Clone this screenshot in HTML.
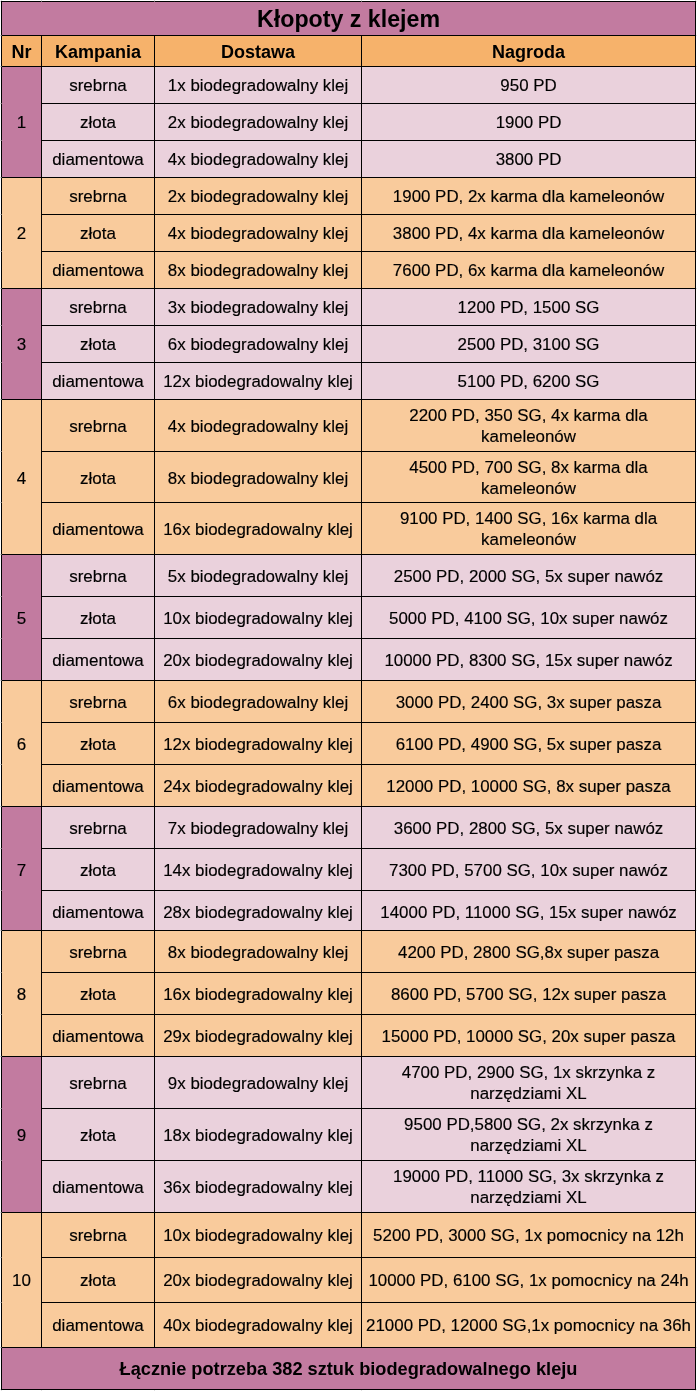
<!DOCTYPE html>
<html lang="pl">
<head>
<meta charset="utf-8">
<title>Kłopoty z klejem</title>
<style>
*{box-sizing:border-box}
html,body{margin:0;padding:0;background:#fff}
body{width:697px;height:1391px;overflow:hidden;position:relative;font-family:"Liberation Sans",Arial,sans-serif;color:#000}
table{position:absolute;left:1px;top:1px;width:695px;border-collapse:collapse;table-layout:fixed;border-spacing:0}
td,th{border:1px solid #000;padding:0;text-align:center;vertical-align:middle;font-weight:400;font-size:17px;line-height:21px;white-space:nowrap;overflow:hidden;-webkit-text-stroke:0.15px #000}
td>span,th>span{display:block;position:relative}
td.v{font-size:16.9px}
.title th,.head th,.foot td{-webkit-text-stroke:0}
.title th{background:#c27ba0;font-weight:700;font-size:23.2px;line-height:26px}
.head th{background:#f6b26b;font-weight:700;font-size:18px;line-height:22px}
.foot td{background:#c27ba0;font-weight:700;font-size:18.2px;line-height:22px}
.p td{background:#ead1dc}
.o td{background:#f9cb9c}
.p td.nr{background:#c27ba0}
.o td.nr{background:#f9cb9c}
.head span{top:1px}
.ticks{position:absolute;left:0;top:0;pointer-events:none}
td.s1 span{top:1px}
td.s2 span{top:2px}
</style>
</head>
<body>
<table>
<colgroup><col style="width:40px"><col style="width:113px"><col style="width:207px"><col style="width:334px"></colgroup>
<thead>
<tr class="title" style="height:34px"><th colspan="4"><span>Kłopoty z klejem</span></th></tr>
<tr class="head" style="height:31px"><th><span>Nr</span></th><th><span>Kampania</span></th><th><span>Dostawa</span></th><th><span>Nagroda</span></th></tr>
</thead>
<tbody>
<tr class="p" style="height:37px"><td class="nr" rowspan="3"><span>1</span></td><td><span>srebrna</span></td><td class="v"><span>1x biodegradowalny klej</span></td><td class="v"><span>950 PD</span></td></tr>
<tr class="p" style="height:37px"><td><span>złota</span></td><td class="v"><span>2x biodegradowalny klej</span></td><td class="v"><span>1900 PD</span></td></tr>
<tr class="p" style="height:37px"><td><span>diamentowa</span></td><td class="v"><span>4x biodegradowalny klej</span></td><td class="v"><span>3800 PD</span></td></tr>
<tr class="o" style="height:37px"><td class="nr" rowspan="3"><span>2</span></td><td><span>srebrna</span></td><td class="v"><span>2x biodegradowalny klej</span></td><td class="v"><span>1900 PD, 2x karma dla kameleonów</span></td></tr>
<tr class="o" style="height:37px"><td><span>złota</span></td><td class="v"><span>4x biodegradowalny klej</span></td><td class="v"><span>3800 PD, 4x karma dla kameleonów</span></td></tr>
<tr class="o" style="height:37px"><td><span>diamentowa</span></td><td class="v"><span>8x biodegradowalny klej</span></td><td class="v"><span>7600 PD, 6x karma dla kameleonów</span></td></tr>
<tr class="p" style="height:37px"><td class="nr" rowspan="3"><span>3</span></td><td><span>srebrna</span></td><td class="v"><span>3x biodegradowalny klej</span></td><td class="v"><span>1200 PD, 1500 SG</span></td></tr>
<tr class="p" style="height:37px"><td><span>złota</span></td><td class="v"><span>6x biodegradowalny klej</span></td><td class="v"><span>2500 PD, 3100 SG</span></td></tr>
<tr class="p" style="height:37px"><td><span>diamentowa</span></td><td class="v"><span>12x biodegradowalny klej</span></td><td class="v"><span>5100 PD, 6200 SG</span></td></tr>
<tr class="o" style="height:52px"><td class="nr s1" rowspan="3"><span>4</span></td><td class="s1"><span>srebrna</span></td><td class="v s1"><span>4x biodegradowalny klej</span></td><td class="v"><span>2200 PD, 350 SG, 4x karma dla<br>kameleonów</span></td></tr>
<tr class="o" style="height:51px"><td class="s1"><span>złota</span></td><td class="v s1"><span>8x biodegradowalny klej</span></td><td class="v s1"><span>4500 PD, 700 SG, 8x karma dla<br>kameleonów</span></td></tr>
<tr class="o" style="height:52px"><td class="s1"><span>diamentowa</span></td><td class="v s1"><span>16x biodegradowalny klej</span></td><td class="v"><span>9100 PD, 1400 SG, 16x karma dla<br>kameleonów</span></td></tr>
<tr class="p" style="height:42px"><td class="nr s1" rowspan="3"><span>5</span></td><td class="s1"><span>srebrna</span></td><td class="v s1"><span>5x biodegradowalny klej</span></td><td class="v s1"><span>2500 PD, 2000 SG, 5x super nawóz</span></td></tr>
<tr class="p" style="height:42px"><td class="s1"><span>złota</span></td><td class="v s1"><span>10x biodegradowalny klej</span></td><td class="v s1"><span>5000 PD, 4100 SG, 10x super nawóz</span></td></tr>
<tr class="p" style="height:42px"><td class="s1"><span>diamentowa</span></td><td class="v s1"><span>20x biodegradowalny klej</span></td><td class="v s1"><span>10000 PD, 8300 SG, 15x super nawóz</span></td></tr>
<tr class="o" style="height:42px"><td class="nr s1" rowspan="3"><span>6</span></td><td class="s1"><span>srebrna</span></td><td class="v s1"><span>6x biodegradowalny klej</span></td><td class="v s1"><span>3000 PD, 2400 SG, 3x super pasza</span></td></tr>
<tr class="o" style="height:42px"><td class="s1"><span>złota</span></td><td class="v s1"><span>12x biodegradowalny klej</span></td><td class="v s1"><span>6100 PD, 4900 SG, 5x super pasza</span></td></tr>
<tr class="o" style="height:42px"><td class="s1"><span>diamentowa</span></td><td class="v s1"><span>24x biodegradowalny klej</span></td><td class="v s1"><span>12000 PD, 10000 SG, 8x super pasza</span></td></tr>
<tr class="p" style="height:42px"><td class="nr s2" rowspan="3"><span>7</span></td><td class="s1"><span>srebrna</span></td><td class="v s1"><span>7x biodegradowalny klej</span></td><td class="v s1"><span>3600 PD, 2800 SG, 5x super nawóz</span></td></tr>
<tr class="p" style="height:42px"><td class="s1"><span>złota</span></td><td class="v s1"><span>14x biodegradowalny klej</span></td><td class="v s1"><span>7300 PD, 5700 SG, 10x super nawóz</span></td></tr>
<tr class="p" style="height:40px"><td class="s2"><span>diamentowa</span></td><td class="v s2"><span>28x biodegradowalny klej</span></td><td class="v s2"><span>14000 PD, 11000 SG, 15x super nawóz</span></td></tr>
<tr class="o" style="height:42px"><td class="nr s1" rowspan="3"><span>8</span></td><td class="s1"><span>srebrna</span></td><td class="v s1"><span>8x biodegradowalny klej</span></td><td class="v s1"><span>4200 PD, 2800 SG,8x super pasza</span></td></tr>
<tr class="o" style="height:42px"><td class="s1"><span>złota</span></td><td class="v s1"><span>16x biodegradowalny klej</span></td><td class="v s1"><span>8600 PD, 5700 SG, 12x super pasza</span></td></tr>
<tr class="o" style="height:42px"><td class="s1"><span>diamentowa</span></td><td class="v s1"><span>29x biodegradowalny klej</span></td><td class="v s1"><span>15000 PD, 10000 SG, 20x super pasza</span></td></tr>
<tr class="p" style="height:52px"><td class="nr s1" rowspan="3"><span>9</span></td><td class="s1"><span>srebrna</span></td><td class="v s1"><span>9x biodegradowalny klej</span></td><td class="v"><span>4700 PD, 2900 SG, 1x skrzynka z<br>narzędziami XL</span></td></tr>
<tr class="p" style="height:52px"><td class="s1"><span>złota</span></td><td class="v s1"><span>18x biodegradowalny klej</span></td><td class="v"><span>9500 PD,5800 SG, 2x skrzynka z<br>narzędziami XL</span></td></tr>
<tr class="p" style="height:52px"><td class="s1"><span>diamentowa</span></td><td class="v s1"><span>36x biodegradowalny klej</span></td><td class="v"><span>19000 PD, 11000 SG, 3x skrzynka z<br>narzędziami XL</span></td></tr>
<tr class="o" style="height:45px"><td class="nr" rowspan="3"><span>10</span></td><td><span>srebrna</span></td><td class="v"><span>10x biodegradowalny klej</span></td><td class="v"><span>5200 PD, 3000 SG, 1x pomocnicy na 12h</span></td></tr>
<tr class="o" style="height:45px"><td><span>złota</span></td><td class="v"><span>20x biodegradowalny klej</span></td><td class="v"><span>10000 PD, 6100 SG, 1x pomocnicy na 24h</span></td></tr>
<tr class="o" style="height:45px"><td><span>diamentowa</span></td><td class="v"><span>40x biodegradowalny klej</span></td><td class="v"><span>21000 PD, 12000 SG,1x pomocnicy na 36h</span></td></tr>
</tbody>
<tfoot>
<tr class="foot" style="height:42px"><td colspan="4"><span>Łącznie potrzeba 382 sztuk biodegradowalnego kleju</span></td></tr>
</tfoot>
</table>
<svg class="ticks" width="697" height="1391" viewBox="0 0 697 1391" shape-rendering="crispEdges" fill="none" aria-hidden="true"><path stroke="#d4d4d4" d="M0 1.5h1M0 35.5h1M0 66.5h1M0 103.5h1M0 140.5h1M0 177.5h1M0 214.5h1M0 251.5h1M0 288.5h1M0 325.5h1M0 362.5h1M0 399.5h1M0 451.5h1M0 502.5h1M0 554.5h1M0 596.5h1M0 638.5h1M0 680.5h1M0 722.5h1M0 764.5h1M0 806.5h1M0 848.5h1M0 890.5h1M0 930.5h1M0 972.5h1M0 1014.5h1M0 1056.5h1M0 1108.5h1M0 1160.5h1M0 1212.5h1M0 1257.5h1M0 1302.5h1M0 1347.5h1M0 1389.5h1M1 .5h1M41 .5h1M154 .5h1M361 .5h1M695 .5h1"/><path stroke="#6a6a6a" d="M1 35.5h1M1 66.5h1M1 103.5h1M1 140.5h1M1 177.5h1M1 214.5h1M1 251.5h1M1 288.5h1M1 325.5h1M1 362.5h1M1 399.5h1M1 451.5h1M1 502.5h1M1 554.5h1M1 596.5h1M1 638.5h1M1 680.5h1M1 722.5h1M1 764.5h1M1 806.5h1M1 848.5h1M1 890.5h1M1 930.5h1M1 972.5h1M1 1014.5h1M1 1056.5h1M1 1108.5h1M1 1160.5h1M1 1212.5h1M1 1257.5h1M1 1302.5h1M1 1347.5h1M41 1.5h1M154 1.5h1M361 1.5h1"/><path stroke="#e0e0e0" d="M696 1.5h1M696 35.5h1M696 66.5h1M696 103.5h1M696 140.5h1M696 177.5h1M696 214.5h1M696 251.5h1M696 288.5h1M696 325.5h1M696 362.5h1M696 399.5h1M696 451.5h1M696 502.5h1M696 554.5h1M696 596.5h1M696 638.5h1M696 680.5h1M696 722.5h1M696 764.5h1M696 806.5h1M696 848.5h1M696 890.5h1M696 930.5h1M696 972.5h1M696 1014.5h1M696 1056.5h1M696 1108.5h1M696 1160.5h1M696 1212.5h1M696 1257.5h1M696 1302.5h1M696 1347.5h1M696 1389.5h1M1 1390.5h1M41 1390.5h1M154 1390.5h1M361 1390.5h1M695 1390.5h1"/></svg>
</body>
</html>
